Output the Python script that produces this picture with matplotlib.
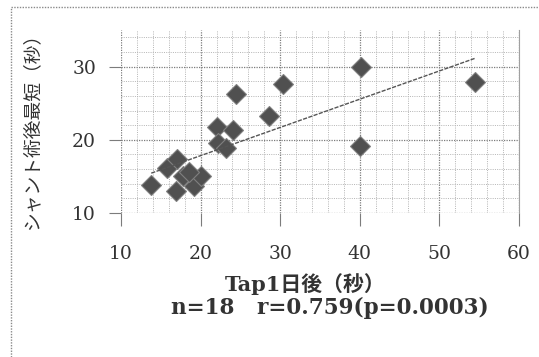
import numpy as np
import matplotlib
matplotlib.use("Agg")
import matplotlib.pyplot as plt
from matplotlib.ticker import MultipleLocator
from matplotlib.lines import Line2D

# Tap1日後 (x, 秒) vs シャント術後最短 (y, 秒)
tap_day1 = [13.8, 16.9, 15.8, 17.0, 17.8, 19.2, 20.1, 18.6,
            22.0, 24.1, 22.2, 23.2, 24.5, 28.6, 30.4, 40.2, 40.0, 54.5]
shunt_min = [13.8, 13.0, 16.1, 17.4, 15.0, 13.7, 15.0, 15.6,
             21.8, 21.4, 19.6, 18.9, 26.2, 23.2, 27.6, 29.9, 19.2, 27.9]

x_ticks = [10, 20, 30, 40, 50, 60]
y_ticks = [10, 20, 30]
x_label = "Tap1日後（秒）"
y_label = "シャント術後最短（秒）"
stats_text = "n=18   r=0.759(p=0.0003)"

FONT = ["DejaVu Serif", "Noto Sans CJK JP"]
TXT = "#333333"

fig = plt.figure(figsize=(5.39, 3.57), dpi=100)
ax = fig.add_axes([0.2245, 0.4034, 0.7385, 0.5126])

ax.set_xlim(10, 60)
ax.set_ylim(10, 35)

ax.xaxis.set_minor_locator(MultipleLocator(2))
ax.yaxis.set_minor_locator(MultipleLocator(2))
ax.set_xticks(x_ticks)
ax.set_yticks(y_ticks)

ax.grid(which="minor", color="#b4b4b4", linestyle=(0, (1, 1.3)), linewidth=0.7)
ax.grid(which="major", color="#7c7c7c", linestyle=(0, (1, 1.0)), linewidth=0.9)
ax.set_axisbelow(True)

for side in ("top", "bottom", "left"):
    ax.spines[side].set_visible(False)
ax.spines["right"].set_color("#a0a0a0")
ax.spines["right"].set_linewidth(0.8)

ax.tick_params(which="both", length=0)
ax.tick_params(which="major", axis="x", length=9, color="#7c7c7c",
               direction="out", width=0.8, pad=14)
ax.tick_params(which="major", axis="y", length=9, color="#7c7c7c",
               direction="out", width=0.8, pad=9)
for lbl in ax.get_xticklabels() + ax.get_yticklabels():
    lbl.set_fontfamily(FONT)
    lbl.set_fontsize(13.5)
    lbl.set_color(TXT)

# scatter of diamonds
ax.plot(tap_day1, shunt_min, linestyle="none", marker="D", markersize=10.5,
        markerfacecolor="#505050", markeredgecolor="#808080",
        markeredgewidth=0.8, zorder=3)

# linear trend line over the observed x range
slope, intercept = np.polyfit(tap_day1, shunt_min, 1)
xs = np.array([min(tap_day1), max(tap_day1)])
ax.plot(xs, slope * xs + intercept, color="#555555", linewidth=1.0,
        linestyle=(0, (3, 1)), zorder=4)

# axis titles
fig.text(0.060, 0.645, y_label, rotation=90, ha="center", va="center",
         fontfamily=FONT, fontsize=13.5, color=TXT)
fig.text(0.566, 0.205, x_label, ha="center", va="center",
         fontfamily=FONT, fontsize=15, fontweight="bold", color=TXT)
fig.text(0.612, 0.137, stats_text, ha="center", va="center",
         fontfamily=FONT, fontsize=15.5, fontweight="bold", color=TXT)

# dotted outer frame (top and left edges)
frame_kw = dict(color="#8a8a8a", linewidth=1.0, linestyle=(0, (1, 1)),
                transform=fig.transFigure)
fig.add_artist(Line2D([11 / 539, 1.0], [1 - 7 / 357, 1 - 7 / 357], **frame_kw))
fig.add_artist(Line2D([11 / 539, 11 / 539], [0.0, 1 - 7 / 357], **frame_kw))

fig.savefig("out.png", dpi=100, facecolor="white")
